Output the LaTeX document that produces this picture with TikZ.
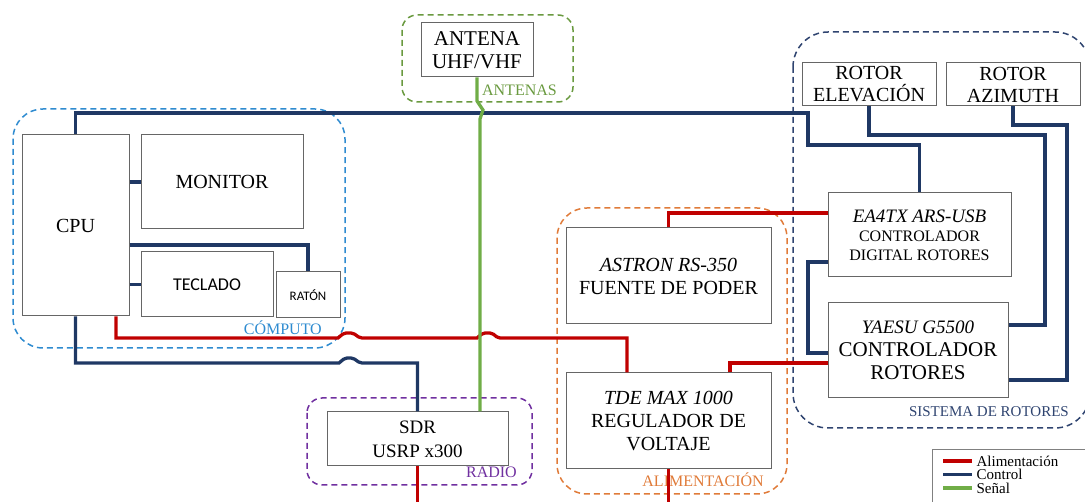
\documentclass[tikz,border=0pt]{standalone}
\usepackage{fontspec}
\setmainfont{Liberation Serif}
\newfontfamily\calib{Carlito}
\usepackage{tikz}
\usetikzlibrary{calc}

\definecolor{pwrred}{HTML}{C00000}
\definecolor{ctlblue}{HTML}{1F3864}
\definecolor{siggreen}{HTML}{70AD47}
\definecolor{compblue}{HTML}{2E8BD0}
\definecolor{antgreen}{HTML}{6A9A40}
\definecolor{radpurple}{HTML}{7030A0}
\definecolor{alimorange}{HTML}{E07B39}
\definecolor{rotnavy}{HTML}{2F4470}

\begin{document}
\begin{tikzpicture}[x=1pt,y=-1pt,
    blk/.style={draw=gray!80!black, line width=1pt, inner sep=0pt, align=center, text=black},
    grp/.style={line width=1.5pt, dash pattern=on 6pt off 4pt},
    pwr/.style={pwrred, line width=3.3pt},
    ctl/.style={ctlblue, line width=3.3pt},
    sig/.style={siggreen, line width=3.3pt},
    big/.style={font=\fontsize{20}{23}\selectfont},
    grplbl/.style={anchor=base east, inner sep=0pt, font=\fontsize{16}{18}\selectfont},
    leglbl/.style={right, black, inner xsep=3pt, inner ysep=0pt, font=\fontsize{15}{14}\selectfont}]

    \useasboundingbox (0,0) rectangle (1085,502);

    % Draw the group frames
    \draw[grp, compblue, rounded corners=30pt] (13,109) rectangle (345,348);
    \draw[grp, antgreen, rounded corners=15pt] (402,15) rectangle (573,102);
    \draw[grp, radpurple, rounded corners=15pt] (307,398) rectangle (532,485);
    \draw[grp, alimorange, rounded corners=30pt] (557,208) rectangle (787,494);
    \draw[grp, rotnavy, rounded corners=35pt] (793,32) rectangle (1090,428);

    % Group labels
    \node[grplbl, compblue] (lcomp) at (322,335) {CÓMPUTO};
    \node[grplbl, antgreen] (lant) at (557,96) {ANTENAS};
    \node[grplbl, radpurple] (lrad) at (517,478) {RADIO};
    \node[grplbl, alimorange] (lalim) at (764,486) {ALIMENTACIÓN};
    \node[grplbl, rotnavy, font=\fontsize{15}{17}\selectfont] (lrot) at (1069,417) {SISTEMA DE ROTORES};

    % Creates the blocks
    \node[blk, big, minimum width=107, minimum height=181] (cpu) at (75.5,225.5) {CPU};
    \node[blk, big, minimum width=162, minimum height=94] (monitor) at (222,182) {MONITOR};
    \node[blk, font=\calib\fontsize{18}{20}\selectfont, minimum width=132, minimum height=65] (teclado) at (207,284.5) {TECLADO};
    \node[blk, font=\calib\fontsize{13}{15}\selectfont, minimum width=64, minimum height=46] (raton) at (308,295) {RATÓN};
    \node[blk, font=\fontsize{21}{23}\selectfont, minimum width=112, minimum height=54] (antena) at (477,50) {ANTENA\\UHF/VHF};
    \node[blk, font=\fontsize{19}{24}\selectfont, minimum width=181, minimum height=54] (sdr) at (417.5,439) {SDR\\USRP x300};
    \node[blk, big, minimum width=205, minimum height=96] (astron) at (668.5,276) {\textit{ASTRON RS-350}\\FUENTE DE PODER};
    \node[blk, big, minimum width=205, minimum height=96] (tde) at (668.5,421) {\textit{TDE MAX 1000}\\REGULADOR DE\\VOLTAJE};
    \node[blk, font=\fontsize{16}{19}\selectfont, minimum width=183, minimum height=84] (ea4tx) at (919.5,235) {{\fontsize{19}{20}\selectfont\textit{EA4TX ARS-USB}}\\CONTROLADOR\\DIGITAL ROTORES};
    \node[blk, font=\fontsize{21}{23}\selectfont, minimum width=180, minimum height=95] (yaesu) at (918,350.5) {{\fontsize{19}{23}\selectfont\textit{YAESU G5500}}\\CONTROLADOR\\ROTORES};
    \node[blk, font=\fontsize{20}{22}\selectfont, minimum width=134, minimum height=43] (rotel) at (869,84.5) {ROTOR\\ELEVACIÓN};
    \node[blk, font=\fontsize{20}{22}\selectfont, minimum width=134, minimum height=43] (rotaz) at (1013,84.5) {ROTOR\\AZIMUTH};

    % Free ends at the lower edge
    \coordinate (sdrOut) at (417.5,502);
    \coordinate (tdeOut) at (668.5,502);

    % Draw control lines
    \draw[ctl] (cpu.north) |- (808,113) -- (808,145) -| (ea4tx.north);
    \draw[ctl] (cpu.east |- monitor.west) -- (monitor.west);
    \draw[ctl] (cpu.east |- teclado.west) -- (teclado.west);
    \draw[ctl] (cpu.east |- 0,245) -| (raton.north);
    \draw[ctl] (cpu.south) |- (339,363) [rounded corners=2pt] -- (345,358) -- (353,358) -- (360,363) [sharp corners] -| (sdr.north);
    \draw[ctl] (ea4tx.west |- 0,262) -| (808,353) -- (yaesu.west |- 0,353);
    \draw[ctl] (rotel.south) |- (1045,135) |- (yaesu.east |- 0,325);
    \draw[ctl] (rotaz.south) |- (1067,125) |- (yaesu.east |- 0,380);

    % Draw power lines
    \draw[pwr] (116,0 |- cpu.south) |- (338,338) [rounded corners=2pt] -- (344,333) -- (353,333) -- (360,338) [sharp corners]
        -- (477,338) [rounded corners=2pt] -- (483,333) -- (492,333) -- (498,338) [sharp corners] -| (627,0 |- tde.north);
    \draw[pwr] (astron.north) |- (ea4tx.west |- 0,213);
    \draw[pwr] (730,0 |- tde.north) |- (yaesu.west |- 0,363);
    \draw[pwr] (tde.south) -- (tdeOut);
    \draw[pwr] (sdr.south) -- (sdrOut);

    % Draw signal line
    \draw[sig] (antena.south) -- (477,101) -- (483,110) -- (480,119) -- (480,0 |- sdr.north);

    % Legend
    \draw[gray, line width=0.8pt] (932,510) |- (1090,449);
    \coordinate (la) at (943,461);
    \coordinate (lb) at (943,474.5);
    \coordinate (lc) at (943,488);
    \draw[pwr] (la) -- ++(29,0) node[leglbl] (tpwr) {Alimentación};
    \draw[ctl] (lb) -- ++(29,0) node[leglbl] (tctl) {Control};
    \draw[sig] (lc) -- ++(29,0) node[leglbl] (tsig) {Señal};
\end{tikzpicture}
\end{document}
